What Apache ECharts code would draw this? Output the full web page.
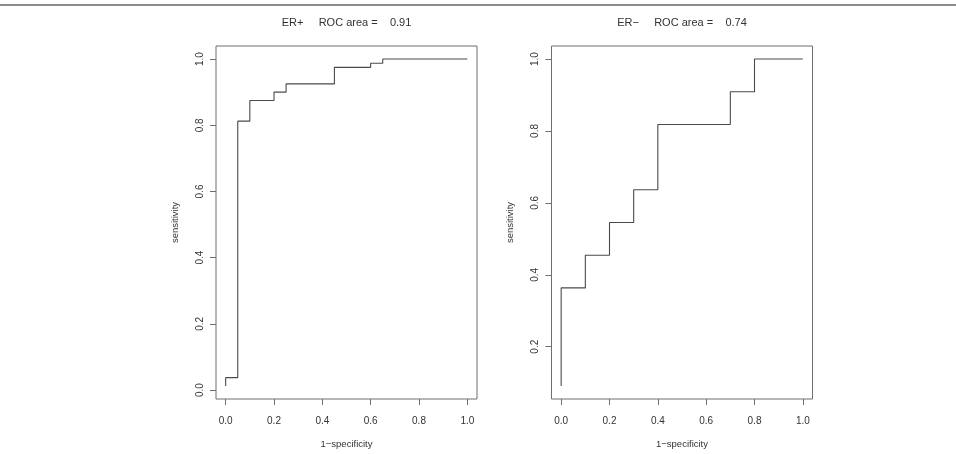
<!DOCTYPE html>
<html>
<head>
<meta charset="utf-8">
<script src="https://cdn.jsdelivr.net/npm/echarts@6/dist/echarts.min.js"></script>
<style>
html,body{margin:0;padding:0;background:#fff;}
#chart{width:956px;height:454px;}
</style>
</head>
<body>
<div id="chart"></div>
<script>
// ---- data ----
const titles = ['ER+     ROC area =    0.91', 'ER\u2212     ROC area =    0.74'];
const xAxisTitle = '1\u2212specificity';
const yAxisTitle = 'sensitivity';
const xTicks = [0, 0.2, 0.4, 0.6, 0.8, 1.0];
const yTicksPos = [0, 0.2, 0.4, 0.6, 0.8, 1.0];
const yTicksNeg = [0.2, 0.4, 0.6, 0.8, 1.0];
// ER+ ROC curve vertices (false positive rate, true positive rate)
const erPosFpr = [0, 0, 0.05, 0.05, 0.1, 0.1, 0.2, 0.2, 0.25, 0.25, 0.45, 0.45, 0.6, 0.6, 0.65, 0.65, 1];
const erPosTpr = [0.0125, 0.0375, 0.0375, 0.8125, 0.8125, 0.875, 0.875, 0.9, 0.9, 0.925, 0.925, 0.975, 0.975, 0.9875, 0.9875, 1, 1];
// ER- ROC curve vertices
const erNegFpr = [0, 0, 0.1, 0.1, 0.2, 0.2, 0.3, 0.3, 0.4, 0.4, 0.7, 0.7, 0.8, 0.8, 1];
const erNegTpr = [0.0909, 0.3636, 0.3636, 0.4545, 0.4545, 0.5455, 0.5455, 0.6364, 0.6364, 0.8182, 0.8182, 0.9091, 0.9091, 1, 1];

// ---- styling / layout ----
const FONT = 'Liberation Sans, Arial, Helvetica, sans-serif';
const TEXT = '#333';
const BOX = '#6e6e6e';
const CURVE = '#4a4a4a';
const panels = [
  {fpr: erPosFpr, tpr: erPosTpr, yTicks: yTicksPos, left: 216, top: 46, width: 261, height: 356},
  {fpr: erNegFpr, tpr: erNegTpr, yTicks: yTicksNeg, left: 551.5, top: 46, width: 261, height: 355}
];

function padRange(arr) {
  const lo = Math.min(...arr), hi = Math.max(...arr);
  const d = (hi - lo) * 0.04;
  return [lo - d, hi + d];
}

const grid = [], xAxis = [], yAxis = [], series = [], title = [];
panels.forEach((p, i) => {
  grid.push({left: p.left, top: p.top, width: p.width, height: p.height,
    show: true, borderColor: BOX, borderWidth: 1, backgroundColor: 'transparent'});
  const xr = padRange(p.fpr), yr = padRange(p.tpr);
  xAxis.push({
    gridIndex: i, type: 'value', min: xr[0], max: xr[1], position: 'bottom',
    axisLine: {show: false, onZero: false}, splitLine: {show: false},
    axisTick: {show: true, inside: false, length: 6, lineStyle: {color: BOX, width: 1}, customValues: xTicks},
    axisLabel: {customValues: xTicks, formatter: v => v.toFixed(1), margin: 17,
      fontSize: 10, color: TEXT, fontFamily: FONT},
    name: xAxisTitle, nameLocation: 'middle', nameGap: 40,
    nameTextStyle: {fontSize: 9.5, color: TEXT, fontFamily: FONT}
  });
  yAxis.push({
    gridIndex: i, type: 'value', min: yr[0], max: yr[1], position: 'left',
    axisLine: {show: false, onZero: false}, splitLine: {show: false},
    axisTick: {show: true, inside: false, length: 6, lineStyle: {color: BOX, width: 1}, customValues: p.yTicks},
    axisLabel: {customValues: p.yTicks, formatter: v => v.toFixed(1), margin: 11, rotate: 90,
      fontSize: 10, color: TEXT, fontFamily: FONT},
    name: yAxisTitle, nameLocation: 'middle', nameGap: 36, nameRotate: 90,
    nameTextStyle: {fontSize: 9.5, color: TEXT, fontFamily: FONT}
  });
  series.push({
    type: 'line', xAxisIndex: i, yAxisIndex: i,
    data: p.fpr.map((x, k) => [x, p.tpr[k]]),
    showSymbol: false, symbol: 'none', silent: true,
    lineStyle: {color: CURVE, width: 1.1}
  });
  title.push({
    text: titles[i], left: p.left + p.width / 2, top: 17, textAlign: 'center', padding: 0,
    textStyle: {fontSize: 11, fontWeight: 'normal', color: TEXT, fontFamily: FONT}
  });
});

const chart = echarts.init(document.getElementById('chart'), null, {renderer: 'canvas'});
chart.setOption({
  animation: false,
  backgroundColor: '#fff',
  title, grid, xAxis, yAxis, series,
  graphic: [{type: 'line', shape: {x1: 0, y1: 5, x2: 956, y2: 5},
    style: {stroke: '#666', lineWidth: 1.5}, silent: true}]
});
</script>
</body>
</html>
